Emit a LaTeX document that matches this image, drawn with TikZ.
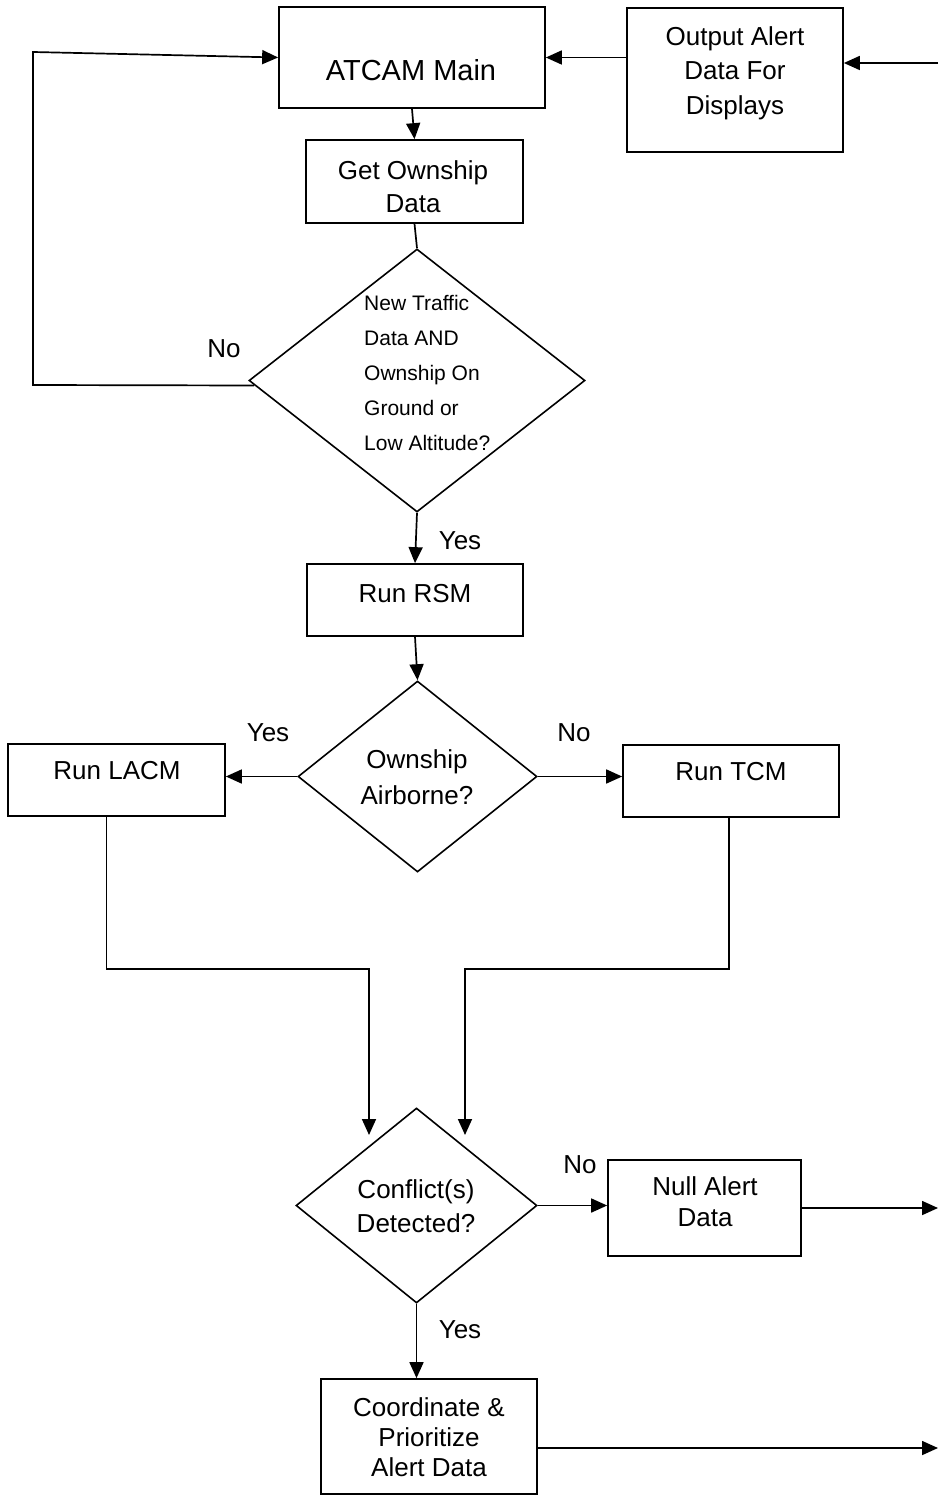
\documentclass[tikz,border=0pt]{standalone}
\usepackage{fontspec}
\setmainfont{Liberation Sans}
\usetikzlibrary{shapes.geometric,arrows.meta,calc}
\begin{document}
\begin{tikzpicture}[x=1pt,y=-1pt,
  box/.style={draw,line width=1.7pt,rectangle,inner sep=0pt},
  dia/.style={draw,line width=1.6pt,diamond,inner sep=0pt},
  txt/.style={align=center,inner sep=0pt,font=\fontsize{26}{34}\selectfont},
  conn/.style={line width=1.7pt},
  arr/.style={line width=1.7pt,-{Triangle[length=16pt,width=14pt]}}]
\useasboundingbox (0,0) rectangle (938,1495);

% boxes
\node[box,minimum width=266pt,minimum height=101pt] (atcam) at (412,57.5) {};
\node[box,minimum width=216pt,minimum height=144pt] (out) at (735,80) {};
\node[box,minimum width=217pt,minimum height=83pt] (get) at (414.5,181.5) {};
\node[box,minimum width=216pt,minimum height=72pt] (rsm) at (415,600) {};
\node[box,minimum width=217pt,minimum height=72pt] (lacm) at (116.5,780) {};
\node[box,minimum width=216pt,minimum height=72pt] (tcm) at (731,781) {};
\node[box,minimum width=193pt,minimum height=96pt] (null) at (704.5,1208) {};
\node[box,minimum width=216pt,minimum height=115pt] (coord) at (429,1436.5) {};

% diamonds
\node[dia,minimum width=336pt,minimum height=263pt] (d1) at (417,380.5) {};
\node[dia,minimum width=239pt,minimum height=191pt] (d2) at (417.5,776.5) {};
\node[dia,minimum width=241pt,minimum height=195pt] (d3) at (416.5,1205.5) {};

% texts
\node[txt,font=\fontsize{29}{34}\selectfont] (tatcam) at (411,70) {ATCAM Main};
\node[txt,font=\fontsize{26}{34.5}\selectfont] (tout) at (735,73) {Output Alert\\Data For\\Displays};
\node[txt,font=\fontsize{26}{33}\selectfont] (tget) at (413,187) {Get Ownship\\Data};
\node[align=left,anchor=west,inner sep=0pt,font=\fontsize{21}{35}\selectfont] (td1) at (364,373) {New Traffic\\Data AND\\Ownship On\\Ground or\\Low Altitude?};
\node[txt] (trsm) at (415,594) {Run RSM};
\node[txt,font=\fontsize{26}{36}\selectfont] (td2) at (417,777) {Ownship\\Airborne?};
\node[txt] (tlacm) at (117,771) {Run LACM};
\node[txt] (ttcm) at (731,772) {Run TCM};
\node[txt,font=\fontsize{26}{34}\selectfont] (td3) at (416,1206) {Conflict(s)\\Detected?};
\node[txt,font=\fontsize{26}{31}\selectfont] (tnull) at (705,1202) {Null Alert\\Data};
\node[txt,font=\fontsize{26}{30}\selectfont] (tcoord) at (429,1437) {Coordinate \&\\Prioritize\\Alert Data};

% branch labels
\node[txt] (lno1) at (224,349) {No};
\node[txt] (lyes1) at (460,541) {Yes};
\node[txt] (lyes2) at (268,733) {Yes};
\node[txt] (lno2) at (574,733) {No};
\node[txt] (lno3) at (580,1165) {No};
\node[txt] (lyes3) at (460,1330) {Yes};

% free ends
\coordinate (lt) at (33,52);
\coordinate (lb) at (33,385);
\coordinate (rin) at (938,63);
\coordinate (rout1) at (938,1208);
\coordinate (rout2) at (938,1448);
\coordinate (m1) at (369,1135);
\coordinate (m2) at (465,1135);

% connectors
\draw[arr] ($(d1.west)+(6,5)$) -- (lb) -- (lt) -- (atcam.west);
\draw[arr] (out.west|-atcam.east) -- (atcam.east);
\draw[arr] (rin) -- (out.east|-rin);
\draw[arr] (atcam.south) -- (get.north);
\draw[conn] (get.south) -- (d1.north);
\draw[arr] (d1.south) -- (rsm.north);
\draw[arr] (rsm.south) -- (d2.north);
\draw[arr] (d2.west) -- (lacm.east|-d2.west);
\draw[arr] (d2.east) -- (tcm.west|-d2.east);
\draw[arr] ($(lacm.south)+(-10,0)$) -- ++(0,152) -| (m1);
\draw[arr] ($(tcm.south)+(-2,0)$) -- ++(0,151) -| (m2);
\draw[arr] (d3.east) -- (null.west|-d3.east);
\draw[arr] (null.east) -- (rout1);
\draw[arr] (d3.south) -- (d3.south|-coord.north);
\draw[arr] (coord.east|-rout2) -- (rout2);
\end{tikzpicture}
\end{document}
